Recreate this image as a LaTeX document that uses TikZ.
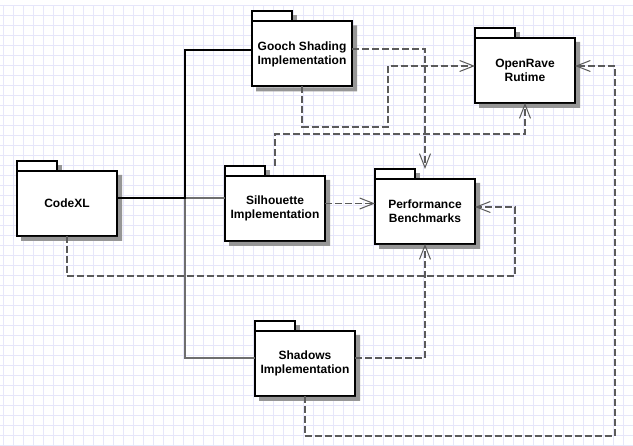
\documentclass[tikz,border=0pt]{standalone}
\usepackage{fontspec}
\setmainfont{Liberation Sans}
\usetikzlibrary{arrows.meta,calc}
\definecolor{gridc}{RGB}{230,230,250}
\definecolor{depgray}{RGB}{90,90,90}
\definecolor{solidgray}{RGB}{110,110,110}
\begin{document}
\begin{tikzpicture}[x=1pt,y=-1pt,
  pkg/.style={draw=black, line width=2pt, fill=white, minimum width=100pt,
    minimum height=65pt, inner sep=0pt, outer sep=0pt, align=center,
    font=\bfseries\fontsize{12pt}{14pt}\selectfont},
  shadowfill/.style={fill={rgb,255:red,150;green,150;blue,150}, draw=none},
  tabbox/.style={draw=black, line width=2pt, fill=white},
  gridline/.style={draw=gridc, line width=1pt},
  assoc/.style={draw=solidgray, line width=1.2pt},
  dep/.style={draw=depgray, line width=1.3pt, dash pattern=on 7pt off 3pt,
    -{Straight Barb[length=14pt,width=11pt,line width=1pt]}}]
\useasboundingbox (0,0) rectangle (633,446);
\fill[white] (0,0) rectangle (633,446);
\foreach \x in {3,13,...,633} \draw[gridline] (\x,6) -- (\x,446);
\foreach \y in {6,16,...,446} \draw[gridline] (0,\y) -- (633,\y);

% packages
\node[pkg] (codexl) at (67,203.5) {CodeXL};
\node[pkg] (gooch) at (302,54) {Gooch Shading\\Implementation};
\node[pkg] (sil) at (275,208.5) {Silhouette\\Implementation};
\node[pkg] (orave) at (525,70.5) {OpenRave\\Rutime};
\node[pkg] (perf) at (425,211.5) {Performance\\Benchmarks};
\node[pkg] (shad) at (305,363.5) {Shadows\\Implementation};
\foreach \n in {codexl,gooch,sil,orave,perf,shad}{
  % L-shaped shadow to the right of and below the body
  \path[shadowfill] ($(\n.north east)+(1,4)$) -- ($(\n.north east)+(5,4)$)
    -- ($(\n.south east)+(5,5)$) -- ($(\n.south west)+(4,5)$)
    -- ($(\n.south west)+(4,1)$) -- ($(\n.south east)+(1,1)$) -- cycle;
  % small shadow to the right of the tab
  \path[shadowfill] ($(\n.north west)+(41,-6)$) rectangle ($(\n.north west)+(45,-1)$);
  \draw[tabbox] (\n.north west) rectangle ($(\n.north west)+(40,-10)$);
}

% solid associations
\coordinate (cx) at ([yshift=5.5pt]codexl.east);
\draw[assoc] (cx) -- ++(68,0) |- ([yshift=5.5pt]shad.west);
\draw[assoc] (cx) -- (cx -| sil.west);
\draw[assoc, draw=black] (cx) -- ++(68,0) |- ([yshift=4pt]gooch.west);

% dependencies
\draw[dep] ([yshift=5pt]gooch.east) -| ([yshift=10pt]perf.north);
\draw[dep] (gooch.south) |- (388,127) |- ([yshift=4.5pt]orave.west);
\draw[dep] ([yshift=10pt]sil.north) -- ++(0,-32) -| (orave.south);
\coordinate (s1) at ([yshift=5pt]sil.east);
\draw[dep] (s1) -- (s1 -| perf.west);
\draw[dep] (codexl.south) -- ++(0,40) -| (515,207) -- ([yshift=4.5pt]perf.east);
\draw[dep] ([yshift=5.5pt]shad.east) -| (perf.south);
\draw[dep] (shad.south) -- ++(0,40) -| (615,66) -- ([yshift=4.5pt]orave.east);
\end{tikzpicture}
\end{document}
